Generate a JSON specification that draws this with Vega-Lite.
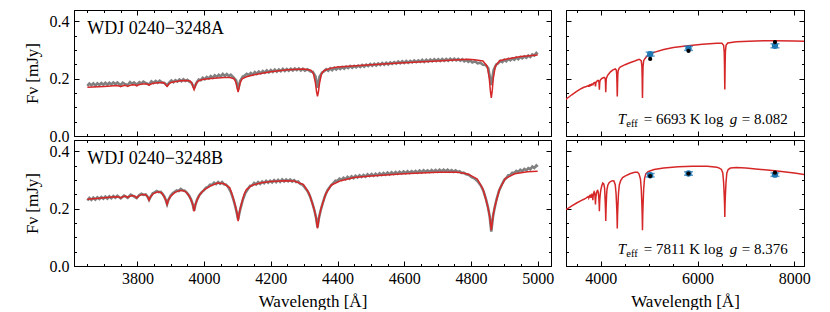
{
"$schema": "https://vega.github.io/schema/vega-lite/v6.json",
"padding": {"left": 22, "top": 9, "right": 5, "bottom": 0},
"config": {
  "view": {"stroke": "black", "strokeWidth": 1},
  "font": "Liberation Serif",
  "axis": {"domainColor": "black", "tickColor": "black", "labelColor": "black", "titleColor": "black", "grid": false, "labelFont": "Liberation Serif", "titleFont": "Liberation Serif", "labelFontSize": 16, "titleFontSize": 17, "titleFontWeight": "normal", "labelFlush": false, "labelOverlap": false, "domainWidth": 1, "tickWidth": 1, "minExtent": 0}
},
"datasets": {
  "modelA": [
    {"w":3250,"f":0.125},{"w":3300,"f":0.131},{"w":3400,"f":0.144},{"w":3500,"f":0.156},{"w":3600,"f":0.166},{"w":3650,"f":0.170},{"w":3700,"f":0.173},{"w":3740,"f":0.176},{"w":3747,"f":0.174},{"w":3750,"f":0.172},{"w":3753,"f":0.174},{"w":3762,"f":0.177},{"w":3768,"f":0.175},{"w":3771,"f":0.173},{"w":3774,"f":0.175},{"w":3785,"f":0.179},{"w":3794,"f":0.178},{"w":3798,"f":0.175},{"w":3802,"f":0.178},{"w":3815,"f":0.182},{"w":3828,"f":0.182},{"w":3832,"f":0.180},{"w":3835,"f":0.177},{"w":3838,"f":0.180},{"w":3845,"f":0.183},{"w":3860,"f":0.186},{"w":3877,"f":0.187},{"w":3883,"f":0.182},{"w":3886,"f":0.177},{"w":3889,"f":0.173},{"w":3892,"f":0.177},{"w":3895,"f":0.182},{"w":3901,"f":0.187},{"w":3915,"f":0.190},{"w":3930,"f":0.193},{"w":3945,"f":0.194},{"w":3958,"f":0.192},{"w":3964,"f":0.183},{"w":3967,"f":0.171},{"w":3970,"f":0.162},{"w":3973,"f":0.171},{"w":3976,"f":0.183},{"w":3982,"f":0.192},{"w":3995,"f":0.197},{"w":4020,"f":0.201},{"w":4060,"f":0.204},{"w":4077,"f":0.204},{"w":4090,"f":0.200},{"w":4096,"f":0.185},{"w":4099,"f":0.168},{"w":4102,"f":0.153},{"w":4105,"f":0.168},{"w":4108,"f":0.185},{"w":4114,"f":0.200},{"w":4127,"f":0.207},{"w":4150,"f":0.214},{"w":4200,"f":0.224},{"w":4250,"f":0.231},{"w":4300,"f":0.234},{"w":4320,"f":0.230},{"w":4328,"f":0.217},{"w":4334,"f":0.184},{"w":4337,"f":0.156},{"w":4340,"f":0.138},{"w":4343,"f":0.156},{"w":4346,"f":0.184},{"w":4352,"f":0.217},{"w":4360,"f":0.229},{"w":4380,"f":0.237},{"w":4400,"f":0.241},{"w":4500,"f":0.249},{"w":4600,"f":0.256},{"w":4700,"f":0.262},{"w":4790,"f":0.268},{"w":4811,"f":0.266},{"w":4836,"f":0.262},{"w":4849,"f":0.243},{"w":4855,"f":0.201},{"w":4858,"f":0.160},{"w":4861,"f":0.133},{"w":4864,"f":0.160},{"w":4867,"f":0.201},{"w":4873,"f":0.243},{"w":4886,"f":0.263},{"w":4911,"f":0.270},{"w":4950,"f":0.278},{"w":5000,"f":0.283},{"w":5100,"f":0.292},{"w":5300,"f":0.302},{"w":5500,"f":0.309},{"w":5800,"f":0.315},{"w":6100,"f":0.320},{"w":6400,"f":0.324},{"w":6503,"f":0.324},{"w":6538,"f":0.317},{"w":6551,"f":0.293},{"w":6557,"f":0.244},{"w":6560,"f":0.195},{"w":6563,"f":0.162},{"w":6566,"f":0.195},{"w":6569,"f":0.244},{"w":6575,"f":0.293},{"w":6588,"f":0.317},{"w":6623,"f":0.325},{"w":6800,"f":0.329},{"w":7200,"f":0.332},{"w":7600,"f":0.333},{"w":8000,"f":0.332},{"w":8250,"f":0.331}
  ],
  "modelB": [
    {"w":3250,"f":0.195},{"w":3300,"f":0.199},{"w":3400,"f":0.210},{"w":3500,"f":0.220},{"w":3600,"f":0.229},{"w":3650,"f":0.233},{"w":3700,"f":0.238},{"w":3735,"f":0.242},{"w":3745,"f":0.241},{"w":3750,"f":0.238},{"w":3755,"f":0.241},{"w":3763,"f":0.244},{"w":3768,"f":0.242},{"w":3771,"f":0.239},{"w":3774,"f":0.242},{"w":3785,"f":0.246},{"w":3793,"f":0.244},{"w":3798,"f":0.238},{"w":3803,"f":0.244},{"w":3815,"f":0.250},{"w":3825,"f":0.249},{"w":3831,"f":0.241},{"w":3835,"f":0.230},{"w":3839,"f":0.241},{"w":3848,"f":0.253},{"w":3862,"f":0.259},{"w":3872,"f":0.256},{"w":3880,"f":0.243},{"w":3885,"f":0.230},{"w":3889,"f":0.215},{"w":3893,"f":0.230},{"w":3900,"f":0.244},{"w":3912,"f":0.256},{"w":3925,"f":0.263},{"w":3935,"f":0.264},{"w":3945,"f":0.259},{"w":3952,"f":0.250},{"w":3959,"f":0.236},{"w":3964,"f":0.222},{"w":3967,"f":0.210},{"w":3970,"f":0.191},{"w":3973,"f":0.210},{"w":3976,"f":0.222},{"w":3981,"f":0.236},{"w":3988,"f":0.251},{"w":4000,"f":0.266},{"w":4020,"f":0.280},{"w":4040,"f":0.290},{"w":4060,"f":0.287},{"w":4077,"f":0.273},{"w":4084,"f":0.250},{"w":4091,"f":0.222},{"w":4096,"f":0.199},{"w":4099,"f":0.181},{"w":4102,"f":0.157},{"w":4105,"f":0.181},{"w":4108,"f":0.199},{"w":4113,"f":0.222},{"w":4120,"f":0.250},{"w":4127,"f":0.267},{"w":4144,"f":0.282},{"w":4172,"f":0.291},{"w":4200,"f":0.295},{"w":4240,"f":0.298},{"w":4270,"f":0.297},{"w":4298,"f":0.284},{"w":4315,"f":0.253},{"w":4322,"f":0.228},{"w":4329,"f":0.202},{"w":4334,"f":0.178},{"w":4337,"f":0.157},{"w":4340,"f":0.131},{"w":4343,"f":0.157},{"w":4346,"f":0.178},{"w":4351,"f":0.202},{"w":4358,"f":0.228},{"w":4365,"f":0.253},{"w":4382,"f":0.283},{"w":4410,"f":0.298},{"w":4450,"f":0.309},{"w":4500,"f":0.314},{"w":4600,"f":0.322},{"w":4700,"f":0.327},{"w":4760,"f":0.327},{"w":4791,"f":0.321},{"w":4819,"f":0.304},{"w":4836,"f":0.269},{"w":4843,"f":0.240},{"w":4850,"f":0.209},{"w":4855,"f":0.180},{"w":4858,"f":0.155},{"w":4861,"f":0.125},{"w":4864,"f":0.155},{"w":4867,"f":0.180},{"w":4872,"f":0.209},{"w":4879,"f":0.240},{"w":4886,"f":0.269},{"w":4903,"f":0.305},{"w":4931,"f":0.322},{"w":4970,"f":0.329},{"w":5000,"f":0.331},{"w":5100,"f":0.337},{"w":5300,"f":0.342},{"w":5600,"f":0.347},{"w":5900,"f":0.348},{"w":6200,"f":0.348},{"w":6400,"f":0.345},{"w":6450,"f":0.342},{"w":6493,"f":0.337},{"w":6521,"f":0.325},{"w":6538,"f":0.293},{"w":6545,"f":0.269},{"w":6552,"f":0.243},{"w":6557,"f":0.220},{"w":6560,"f":0.200},{"w":6563,"f":0.171},{"w":6566,"f":0.200},{"w":6569,"f":0.220},{"w":6574,"f":0.243},{"w":6581,"f":0.269},{"w":6588,"f":0.293},{"w":6605,"f":0.325},{"w":6633,"f":0.337},{"w":6680,"f":0.342},{"w":6800,"f":0.344},{"w":7000,"f":0.342},{"w":7200,"f":0.339},{"w":7600,"f":0.333},{"w":8000,"f":0.325},{"w":8250,"f":0.318}
  ],
  "obsA": [
    {"w":3650,"f":0.175},{"w":3656,"f":0.183},{"w":3662,"f":0.177},{"w":3668,"f":0.184},{"w":3674,"f":0.176},{"w":3680,"f":0.184},{"w":3686,"f":0.178},{"w":3692,"f":0.185},{"w":3698,"f":0.179},{"w":3704,"f":0.186},{"w":3710,"f":0.179},{"w":3716,"f":0.186},{"w":3722,"f":0.180},{"w":3728,"f":0.187},{"w":3734,"f":0.181},{"w":3740,"f":0.187},{"w":3746,"f":0.181},{"w":3750,"f":0.178},{"w":3756,"f":0.186},{"w":3762,"f":0.182},{"w":3771,"f":0.178},{"w":3778,"f":0.188},{"w":3784,"f":0.182},{"w":3790,"f":0.187},{"w":3798,"f":0.179},{"w":3806,"f":0.188},{"w":3812,"f":0.183},{"w":3818,"f":0.190},{"w":3825,"f":0.185},{"w":3835,"f":0.180},{"w":3842,"f":0.191},{"w":3848,"f":0.185},{"w":3855,"f":0.192},{"w":3861,"f":0.186},{"w":3867,"f":0.193},{"w":3874,"f":0.187},{"w":3880,"f":0.186},{"w":3889,"f":0.177},{"w":3896,"f":0.187},{"w":3902,"f":0.194},{"w":3908,"f":0.188},{"w":3914,"f":0.195},{"w":3920,"f":0.190},{"w":3926,"f":0.197},{"w":3932,"f":0.191},{"w":3938,"f":0.198},{"w":3944,"f":0.192},{"w":3950,"f":0.196},{"w":3956,"f":0.190},{"w":3962,"f":0.186},{"w":3970,"f":0.168},{"w":3978,"f":0.187},{"w":3984,"f":0.197},{"w":3990,"f":0.195},{"w":3996,"f":0.203},{"w":4002,"f":0.198},{"w":4008,"f":0.206},{"w":4014,"f":0.201},{"w":4020,"f":0.209},{"w":4026,"f":0.203},{"w":4032,"f":0.212},{"w":4038,"f":0.206},{"w":4044,"f":0.214},{"w":4050,"f":0.208},{"w":4056,"f":0.217},{"w":4062,"f":0.210},{"w":4068,"f":0.216},{"w":4074,"f":0.209},{"w":4080,"f":0.214},{"w":4088,"f":0.205},{"w":4096,"f":0.194},{"w":4102,"f":0.163},{"w":4108,"f":0.192},{"w":4116,"f":0.208},{"w":4122,"f":0.211},{"w":4128,"f":0.217},{"w":4134,"f":0.213},{"w":4140,"f":0.220},{"w":4146,"f":0.214},{"w":4152,"f":0.223},{"w":4158,"f":0.217},{"w":4164,"f":0.225},{"w":4170,"f":0.219},{"w":4176,"f":0.227},{"w":4182,"f":0.221},{"w":4188,"f":0.229},{"w":4194,"f":0.222},{"w":4200,"f":0.230},{"w":4206,"f":0.224},{"w":4212,"f":0.232},{"w":4218,"f":0.225},{"w":4224,"f":0.232},{"w":4230,"f":0.226},{"w":4236,"f":0.234},{"w":4242,"f":0.227},{"w":4248,"f":0.234},{"w":4254,"f":0.228},{"w":4260,"f":0.235},{"w":4266,"f":0.229},{"w":4272,"f":0.236},{"w":4278,"f":0.230},{"w":4284,"f":0.236},{"w":4290,"f":0.229},{"w":4296,"f":0.235},{"w":4302,"f":0.228},{"w":4310,"f":0.233},{"w":4318,"f":0.226},{"w":4326,"f":0.224},{"w":4334,"f":0.208},{"w":4340,"f":0.168},{"w":4346,"f":0.207},{"w":4354,"f":0.222},{"w":4360,"f":0.226},{"w":4366,"f":0.233},{"w":4372,"f":0.228},{"w":4378,"f":0.236},{"w":4384,"f":0.230},{"w":4390,"f":0.238},{"w":4396,"f":0.232},{"w":4402,"f":0.239},{"w":4408,"f":0.234},{"w":4414,"f":0.241},{"w":4420,"f":0.235},{"w":4426,"f":0.242},{"w":4432,"f":0.237},{"w":4438,"f":0.244},{"w":4444,"f":0.238},{"w":4450,"f":0.245},{"w":4456,"f":0.240},{"w":4462,"f":0.246},{"w":4468,"f":0.241},{"w":4474,"f":0.248},{"w":4480,"f":0.242},{"w":4486,"f":0.249},{"w":4492,"f":0.244},{"w":4498,"f":0.251},{"w":4504,"f":0.245},{"w":4510,"f":0.252},{"w":4516,"f":0.246},{"w":4522,"f":0.253},{"w":4528,"f":0.248},{"w":4534,"f":0.255},{"w":4540,"f":0.249},{"w":4546,"f":0.256},{"w":4552,"f":0.250},{"w":4558,"f":0.257},{"w":4564,"f":0.252},{"w":4570,"f":0.258},{"w":4576,"f":0.253},{"w":4582,"f":0.260},{"w":4588,"f":0.254},{"w":4594,"f":0.261},{"w":4600,"f":0.255},{"w":4606,"f":0.262},{"w":4612,"f":0.256},{"w":4618,"f":0.262},{"w":4624,"f":0.257},{"w":4630,"f":0.264},{"w":4636,"f":0.258},{"w":4642,"f":0.264},{"w":4648,"f":0.259},{"w":4654,"f":0.266},{"w":4660,"f":0.259},{"w":4666,"f":0.266},{"w":4672,"f":0.260},{"w":4678,"f":0.267},{"w":4684,"f":0.261},{"w":4690,"f":0.268},{"w":4696,"f":0.262},{"w":4702,"f":0.268},{"w":4708,"f":0.262},{"w":4714,"f":0.269},{"w":4720,"f":0.263},{"w":4726,"f":0.269},{"w":4732,"f":0.263},{"w":4738,"f":0.270},{"w":4744,"f":0.264},{"w":4750,"f":0.270},{"w":4756,"f":0.264},{"w":4762,"f":0.269},{"w":4768,"f":0.263},{"w":4774,"f":0.268},{"w":4780,"f":0.261},{"w":4786,"f":0.266},{"w":4792,"f":0.259},{"w":4798,"f":0.264},{"w":4804,"f":0.257},{"w":4812,"f":0.261},{"w":4820,"f":0.254},{"w":4828,"f":0.256},{"w":4836,"f":0.249},{"w":4844,"f":0.248},{"w":4852,"f":0.236},{"w":4861,"f":0.178},{"w":4868,"f":0.231},{"w":4876,"f":0.250},{"w":4882,"f":0.254},{"w":4888,"f":0.262},{"w":4894,"f":0.258},{"w":4900,"f":0.266},{"w":4906,"f":0.261},{"w":4912,"f":0.269},{"w":4918,"f":0.264},{"w":4924,"f":0.271},{"w":4930,"f":0.266},{"w":4936,"f":0.274},{"w":4942,"f":0.268},{"w":4948,"f":0.276},{"w":4954,"f":0.271},{"w":4960,"f":0.278},{"w":4966,"f":0.273},{"w":4972,"f":0.281},{"w":4978,"f":0.276},{"w":4984,"f":0.285},{"w":4990,"f":0.281},{"w":4996,"f":0.290},{"w":5000,"f":0.285}
  ],
  "obsB": [
    {"w":3650,"f":0.229},{"w":3656,"f":0.238},{"w":3662,"f":0.231},{"w":3668,"f":0.239},{"w":3674,"f":0.232},{"w":3680,"f":0.240},{"w":3686,"f":0.234},{"w":3692,"f":0.241},{"w":3698,"f":0.235},{"w":3704,"f":0.242},{"w":3710,"f":0.235},{"w":3716,"f":0.243},{"w":3722,"f":0.237},{"w":3728,"f":0.244},{"w":3734,"f":0.238},{"w":3740,"f":0.245},{"w":3750,"f":0.236},{"w":3760,"f":0.246},{"w":3771,"f":0.238},{"w":3780,"f":0.249},{"w":3788,"f":0.244},{"w":3798,"f":0.237},{"w":3806,"f":0.248},{"w":3812,"f":0.252},{"w":3818,"f":0.248},{"w":3825,"f":0.250},{"w":3830,"f":0.243},{"w":3835,"f":0.231},{"w":3840,"f":0.242},{"w":3846,"f":0.254},{"w":3852,"f":0.257},{"w":3858,"f":0.262},{"w":3864,"f":0.258},{"w":3870,"f":0.259},{"w":3876,"f":0.251},{"w":3881,"f":0.242},{"w":3885,"f":0.231},{"w":3889,"f":0.216},{"w":3893,"f":0.231},{"w":3900,"f":0.246},{"w":3906,"f":0.254},{"w":3912,"f":0.259},{"w":3918,"f":0.264},{"w":3924,"f":0.262},{"w":3930,"f":0.269},{"w":3936,"f":0.264},{"w":3942,"f":0.263},{"w":3948,"f":0.256},{"w":3955,"f":0.246},{"w":3961,"f":0.232},{"w":3966,"f":0.215},{"w":3970,"f":0.193},{"w":3974,"f":0.214},{"w":3979,"f":0.232},{"w":3985,"f":0.246},{"w":3993,"f":0.258},{"w":4000,"f":0.265},{"w":4006,"f":0.274},{"w":4012,"f":0.276},{"w":4018,"f":0.284},{"w":4024,"f":0.283},{"w":4030,"f":0.291},{"w":4036,"f":0.286},{"w":4042,"f":0.293},{"w":4048,"f":0.287},{"w":4054,"f":0.293},{"w":4060,"f":0.285},{"w":4066,"f":0.284},{"w":4072,"f":0.276},{"w":4080,"f":0.259},{"w":4088,"f":0.232},{"w":4094,"f":0.206},{"w":4098,"f":0.185},{"w":4102,"f":0.162},{"w":4106,"f":0.186},{"w":4110,"f":0.205},{"w":4116,"f":0.231},{"w":4124,"f":0.256},{"w":4132,"f":0.270},{"w":4138,"f":0.280},{"w":4144,"f":0.281},{"w":4150,"f":0.290},{"w":4156,"f":0.285},{"w":4162,"f":0.293},{"w":4168,"f":0.287},{"w":4174,"f":0.295},{"w":4180,"f":0.289},{"w":4186,"f":0.297},{"w":4192,"f":0.291},{"w":4198,"f":0.298},{"w":4204,"f":0.292},{"w":4210,"f":0.300},{"w":4216,"f":0.293},{"w":4222,"f":0.301},{"w":4228,"f":0.294},{"w":4234,"f":0.302},{"w":4240,"f":0.295},{"w":4246,"f":0.302},{"w":4252,"f":0.296},{"w":4258,"f":0.302},{"w":4264,"f":0.295},{"w":4270,"f":0.300},{"w":4276,"f":0.293},{"w":4282,"f":0.295},{"w":4288,"f":0.287},{"w":4294,"f":0.285},{"w":4300,"f":0.277},{"w":4310,"f":0.262},{"w":4318,"f":0.242},{"w":4325,"f":0.218},{"w":4331,"f":0.193},{"w":4336,"f":0.167},{"w":4340,"f":0.135},{"w":4344,"f":0.166},{"w":4349,"f":0.192},{"w":4355,"f":0.217},{"w":4362,"f":0.243},{"w":4370,"f":0.265},{"w":4380,"f":0.281},{"w":4388,"f":0.290},{"w":4394,"f":0.298},{"w":4400,"f":0.297},{"w":4406,"f":0.305},{"w":4412,"f":0.301},{"w":4418,"f":0.308},{"w":4424,"f":0.303},{"w":4430,"f":0.311},{"w":4436,"f":0.305},{"w":4442,"f":0.313},{"w":4448,"f":0.307},{"w":4454,"f":0.315},{"w":4460,"f":0.309},{"w":4466,"f":0.317},{"w":4472,"f":0.311},{"w":4478,"f":0.318},{"w":4484,"f":0.312},{"w":4490,"f":0.320},{"w":4496,"f":0.314},{"w":4502,"f":0.321},{"w":4508,"f":0.315},{"w":4514,"f":0.322},{"w":4520,"f":0.316},{"w":4526,"f":0.324},{"w":4532,"f":0.318},{"w":4538,"f":0.325},{"w":4544,"f":0.319},{"w":4550,"f":0.326},{"w":4556,"f":0.320},{"w":4562,"f":0.327},{"w":4568,"f":0.321},{"w":4574,"f":0.328},{"w":4580,"f":0.322},{"w":4586,"f":0.329},{"w":4592,"f":0.323},{"w":4598,"f":0.330},{"w":4604,"f":0.324},{"w":4610,"f":0.331},{"w":4616,"f":0.325},{"w":4622,"f":0.331},{"w":4628,"f":0.326},{"w":4634,"f":0.332},{"w":4640,"f":0.326},{"w":4646,"f":0.333},{"w":4652,"f":0.327},{"w":4658,"f":0.334},{"w":4664,"f":0.328},{"w":4670,"f":0.334},{"w":4676,"f":0.328},{"w":4682,"f":0.335},{"w":4688,"f":0.329},{"w":4694,"f":0.335},{"w":4700,"f":0.329},{"w":4706,"f":0.336},{"w":4712,"f":0.330},{"w":4718,"f":0.336},{"w":4724,"f":0.330},{"w":4730,"f":0.336},{"w":4736,"f":0.330},{"w":4742,"f":0.335},{"w":4748,"f":0.329},{"w":4754,"f":0.334},{"w":4760,"f":0.328},{"w":4766,"f":0.331},{"w":4772,"f":0.325},{"w":4778,"f":0.326},{"w":4786,"f":0.320},{"w":4794,"f":0.318},{"w":4802,"f":0.310},{"w":4810,"f":0.306},{"w":4820,"f":0.296},{"w":4830,"f":0.280},{"w":4838,"f":0.260},{"w":4845,"f":0.234},{"w":4851,"f":0.205},{"w":4856,"f":0.175},{"w":4861,"f":0.120},{"w":4866,"f":0.172},{"w":4871,"f":0.203},{"w":4877,"f":0.234},{"w":4884,"f":0.262},{"w":4892,"f":0.283},{"w":4900,"f":0.301},{"w":4906,"f":0.307},{"w":4912,"f":0.317},{"w":4918,"f":0.318},{"w":4924,"f":0.326},{"w":4930,"f":0.324},{"w":4936,"f":0.332},{"w":4942,"f":0.328},{"w":4948,"f":0.336},{"w":4954,"f":0.331},{"w":4960,"f":0.339},{"w":4966,"f":0.334},{"w":4972,"f":0.342},{"w":4978,"f":0.338},{"w":4984,"f":0.347},{"w":4990,"f":0.342},{"w":4996,"f":0.351},{"w":5000,"f":0.346}
  ],
  "photA": [
    {"w":5020,"obs":0.286,"lo":0.279,"hi":0.293,"syn":0.269},
    {"w":5813,"obs":0.306,"lo":0.299,"hi":0.313,"syn":0.297},
    {"w":7600,"obs":0.315,"lo":0.308,"hi":0.322,"syn":0.328}
  ],
  "photB": [
    {"w":5020,"obs":0.317,"lo":0.311,"hi":0.323,"syn":0.314},
    {"w":5813,"obs":0.323,"lo":0.317,"hi":0.329,"syn":0.323},
    {"w":7600,"obs":0.319,"lo":0.313,"hi":0.325,"syn":0.326}
  ]
},
"columns": 2,
"align": "each",
"bounds": "flush",
"spacing": {"row": 4, "column": 15},
"concat": [
  {
    "width": 477, "height": 126,
    "resolve": {"axis": {"x": "independent", "y": "independent"}},
    "layer": [
      {"data": {"name": "obsA"}, "mark": {"type": "line", "color": "#808080", "strokeWidth": 2.6},
       "encoding": {
         "x": {"field": "w", "type": "quantitative", "scale": {"domain": [3610, 5040], "nice": false, "zero": false},
               "axis": {"orient": "bottom", "values": [3650,3700,3750,3800,3850,3900,3950,4000,4050,4100,4150,4200,4250,4300,4350,4400,4450,4500,4550,4600,4650,4700,4750,4800,4850,4900,4950,5000], "labels": false, "title": null, "tickSize": {"condition": {"test": "datum.value % 200 === 0", "value": -5}, "value": -2.5}}},
         "y": {"field": "f", "type": "quantitative", "scale": {"domain": [0, 0.44], "nice": false},
               "axis": {"orient": "left", "values": [0,0.05,0.1,0.15,0.2,0.25,0.3,0.35,0.4], "title": "Fν [mJy]", "titlePadding": 8, "labelPadding": 10, "labelExpr": "round(datum.value*100) % 20 === 0 ? format(datum.value, '.1f') : ''", "tickSize": {"condition": {"test": "round(datum.value*100) % 20 === 0", "value": -5}, "value": -2.5}}}
       }},
      {"data": {"name": "modelA"}, "transform": [{"filter": "datum.w >= 3650 && datum.w <= 5000"}], "mark": {"type": "line", "color": "#d62728", "strokeWidth": 1.5},
       "encoding": {
         "x": {"field": "w", "type": "quantitative", "axis": {"orient": "top", "values": [3650,3700,3750,3800,3850,3900,3950,4000,4050,4100,4150,4200,4250,4300,4350,4400,4450,4500,4550,4600,4650,4700,4750,4800,4850,4900,4950,5000], "labels": false, "title": null, "tickSize": {"condition": {"test": "datum.value % 200 === 0", "value": -5}, "value": -2.5}}},
         "y": {"field": "f", "type": "quantitative", "axis": {"orient": "right", "values": [0,0.05,0.1,0.15,0.2,0.25,0.3,0.35,0.4], "labels": false, "title": null, "tickSize": {"condition": {"test": "round(datum.value*100) % 20 === 0", "value": -5}, "value": -2.5}}}
       }},
      {"data": {"values": [{}]}, "mark": {"type": "text", "align": "left", "baseline": "alphabetic", "fontSize": 18, "font": "Liberation Serif", "color": "black"},
       "encoding": {"x": {"datum": 3650, "type": "quantitative", "axis": null}, "y": {"datum": 0.355, "type": "quantitative", "axis": null}, "text": {"value": "WDJ 0240−3248A"}}}
    ]
  },
  {
    "width": 238, "height": 126,
    "resolve": {"axis": {"x": "independent", "y": "independent"}},
    "layer": [
      {"data": {"name": "modelA"}, "mark": {"type": "line", "color": "#d62728", "strokeWidth": 1.5, "clip": true},
       "encoding": {
         "x": {"field": "w", "type": "quantitative", "scale": {"domain": [3280, 8200], "nice": false, "zero": false},
               "axis": {"orient": "bottom", "values": [3500,4000,4500,5000,5500,6000,6500,7000,7500,8000], "labels": false, "title": null, "tickSize": {"condition": {"test": "datum.value % 2000 === 0", "value": -5}, "value": -2.5}}},
         "y": {"field": "f", "type": "quantitative", "scale": {"domain": [0, 0.44], "nice": false},
               "axis": {"orient": "left", "values": [0,0.05,0.1,0.15,0.2,0.25,0.3,0.35,0.4], "labels": false, "title": null, "tickSize": {"condition": {"test": "round(datum.value*100) % 20 === 0", "value": -5}, "value": -2.5}}}
       }},
      {"data": {"name": "photA"}, "mark": {"type": "rule", "color": "#1f77b4", "strokeWidth": 1.5},
       "encoding": {
         "x": {"field": "w", "type": "quantitative", "axis": {"orient": "top", "values": [3500,4000,4500,5000,5500,6000,6500,7000,7500,8000], "labels": false, "title": null, "tickSize": {"condition": {"test": "datum.value % 2000 === 0", "value": -5}, "value": -2.5}}},
         "y": {"field": "lo", "type": "quantitative", "axis": {"orient": "right", "values": [0,0.05,0.1,0.15,0.2,0.25,0.3,0.35,0.4], "labels": false, "title": null, "tickSize": {"condition": {"test": "round(datum.value*100) % 20 === 0", "value": -5}, "value": -2.5}}},
         "y2": {"field": "hi"}
       }},
      {"data": {"name": "photA"}, "mark": {"type": "tick", "orient": "horizontal", "color": "#1f77b4", "size": 9, "thickness": 1.5},
       "encoding": {"x": {"field": "w", "type": "quantitative", "axis": null}, "y": {"field": "lo", "type": "quantitative", "axis": null}}},
      {"data": {"name": "photA"}, "mark": {"type": "tick", "orient": "horizontal", "color": "#1f77b4", "size": 9, "thickness": 1.5},
       "encoding": {"x": {"field": "w", "type": "quantitative", "axis": null}, "y": {"field": "hi", "type": "quantitative", "axis": null}}},
      {"data": {"name": "photA"}, "mark": {"type": "circle", "color": "#1f77b4", "size": 40, "opacity": 1},
       "encoding": {"x": {"field": "w", "type": "quantitative", "axis": null}, "y": {"field": "obs", "type": "quantitative", "axis": null}}},
      {"data": {"name": "photA"}, "mark": {"type": "circle", "color": "black", "size": 18, "opacity": 1},
       "encoding": {"x": {"field": "w", "type": "quantitative", "axis": null}, "y": {"field": "syn", "type": "quantitative", "axis": null}}},
      {"data": {"values": [{}]}, "mark": {"type": "text", "align": "left", "baseline": "alphabetic", "fontSize": 15, "fontStyle": "italic", "font": "Liberation Serif", "color": "black"},
       "encoding": {"x": {"datum": 4350, "type": "quantitative", "axis": null}, "y": {"datum": 0.042, "type": "quantitative", "axis": null}, "text": {"value": "T"}}},
      {"data": {"values": [{}]}, "mark": {"type": "text", "align": "left", "baseline": "alphabetic", "fontSize": 10.5, "font": "Liberation Serif", "color": "black", "dx": 8.5, "dy": 3},
       "encoding": {"x": {"datum": 4350, "type": "quantitative", "axis": null}, "y": {"datum": 0.042, "type": "quantitative", "axis": null}, "text": {"value": "eff"}}},
      {"data": {"values": [{}]}, "mark": {"type": "text", "align": "left", "baseline": "alphabetic", "fontSize": 15, "font": "Liberation Serif", "color": "black", "dx": 26},
       "encoding": {"x": {"datum": 4350, "type": "quantitative", "axis": null}, "y": {"datum": 0.042, "type": "quantitative", "axis": null}, "text": {"value": "= 6693 K  log"}}},
      {"data": {"values": [{}]}, "mark": {"type": "text", "align": "left", "baseline": "alphabetic", "fontSize": 15, "fontStyle": "italic", "font": "Liberation Serif", "color": "black", "dx": 112},
       "encoding": {"x": {"datum": 4350, "type": "quantitative", "axis": null}, "y": {"datum": 0.042, "type": "quantitative", "axis": null}, "text": {"value": "g"}}},
      {"data": {"values": [{}]}, "mark": {"type": "text", "align": "left", "baseline": "alphabetic", "fontSize": 15, "font": "Liberation Serif", "color": "black", "dx": 124},
       "encoding": {"x": {"datum": 4350, "type": "quantitative", "axis": null}, "y": {"datum": 0.042, "type": "quantitative", "axis": null}, "text": {"value": "= 8.082"}}}
    ]
  },
  {
    "width": 477, "height": 126,
    "resolve": {"axis": {"x": "independent", "y": "independent"}},
    "layer": [
      {"data": {"name": "obsB"}, "mark": {"type": "line", "color": "#808080", "strokeWidth": 2.6},
       "encoding": {
         "x": {"field": "w", "type": "quantitative", "scale": {"domain": [3610, 5040], "nice": false, "zero": false},
               "axis": {"orient": "bottom", "values": [3650,3700,3750,3800,3850,3900,3950,4000,4050,4100,4150,4200,4250,4300,4350,4400,4450,4500,4550,4600,4650,4700,4750,4800,4850,4900,4950,5000], "title": "Wavelength [Å]", "titlePadding": 5, "labelPadding": 9, "labelExpr": "datum.value % 200 === 0 ? format(datum.value, 'd') : ''", "tickSize": {"condition": {"test": "datum.value % 200 === 0", "value": -5}, "value": -2.5}}},
         "y": {"field": "f", "type": "quantitative", "scale": {"domain": [0, 0.44], "nice": false},
               "axis": {"orient": "left", "values": [0,0.05,0.1,0.15,0.2,0.25,0.3,0.35,0.4], "title": "Fν [mJy]", "titlePadding": 8, "labelPadding": 10, "labelExpr": "round(datum.value*100) % 20 === 0 ? format(datum.value, '.1f') : ''", "tickSize": {"condition": {"test": "round(datum.value*100) % 20 === 0", "value": -5}, "value": -2.5}}}
       }},
      {"data": {"name": "modelB"}, "transform": [{"filter": "datum.w >= 3650 && datum.w <= 5000"}], "mark": {"type": "line", "color": "#d62728", "strokeWidth": 1.5},
       "encoding": {
         "x": {"field": "w", "type": "quantitative", "axis": {"orient": "top", "values": [3650,3700,3750,3800,3850,3900,3950,4000,4050,4100,4150,4200,4250,4300,4350,4400,4450,4500,4550,4600,4650,4700,4750,4800,4850,4900,4950,5000], "labels": false, "title": null, "tickSize": {"condition": {"test": "datum.value % 200 === 0", "value": -5}, "value": -2.5}}},
         "y": {"field": "f", "type": "quantitative", "axis": {"orient": "right", "values": [0,0.05,0.1,0.15,0.2,0.25,0.3,0.35,0.4], "labels": false, "title": null, "tickSize": {"condition": {"test": "round(datum.value*100) % 20 === 0", "value": -5}, "value": -2.5}}}
       }},
      {"data": {"values": [{}]}, "mark": {"type": "text", "align": "left", "baseline": "alphabetic", "fontSize": 18, "font": "Liberation Serif", "color": "black"},
       "encoding": {"x": {"datum": 3650, "type": "quantitative", "axis": null}, "y": {"datum": 0.355, "type": "quantitative", "axis": null}, "text": {"value": "WDJ 0240−3248B"}}}
    ]
  },
  {
    "width": 238, "height": 126,
    "resolve": {"axis": {"x": "independent", "y": "independent"}},
    "layer": [
      {"data": {"name": "modelB"}, "mark": {"type": "line", "color": "#d62728", "strokeWidth": 1.5, "clip": true},
       "encoding": {
         "x": {"field": "w", "type": "quantitative", "scale": {"domain": [3280, 8200], "nice": false, "zero": false},
               "axis": {"orient": "bottom", "values": [3500,4000,4500,5000,5500,6000,6500,7000,7500,8000], "title": "Wavelength [Å]", "titlePadding": 5, "labelPadding": 9, "labelExpr": "datum.value % 2000 === 0 ? format(datum.value, 'd') : ''", "tickSize": {"condition": {"test": "datum.value % 2000 === 0", "value": -5}, "value": -2.5}}},
         "y": {"field": "f", "type": "quantitative", "scale": {"domain": [0, 0.44], "nice": false},
               "axis": {"orient": "left", "values": [0,0.05,0.1,0.15,0.2,0.25,0.3,0.35,0.4], "labels": false, "title": null, "tickSize": {"condition": {"test": "round(datum.value*100) % 20 === 0", "value": -5}, "value": -2.5}}}
       }},
      {"data": {"name": "photB"}, "mark": {"type": "rule", "color": "#1f77b4", "strokeWidth": 1.5},
       "encoding": {
         "x": {"field": "w", "type": "quantitative", "axis": {"orient": "top", "values": [3500,4000,4500,5000,5500,6000,6500,7000,7500,8000], "labels": false, "title": null, "tickSize": {"condition": {"test": "datum.value % 2000 === 0", "value": -5}, "value": -2.5}}},
         "y": {"field": "lo", "type": "quantitative", "axis": {"orient": "right", "values": [0,0.05,0.1,0.15,0.2,0.25,0.3,0.35,0.4], "labels": false, "title": null, "tickSize": {"condition": {"test": "round(datum.value*100) % 20 === 0", "value": -5}, "value": -2.5}}},
         "y2": {"field": "hi"}
       }},
      {"data": {"name": "photB"}, "mark": {"type": "tick", "orient": "horizontal", "color": "#1f77b4", "size": 9, "thickness": 1.5},
       "encoding": {"x": {"field": "w", "type": "quantitative", "axis": null}, "y": {"field": "lo", "type": "quantitative", "axis": null}}},
      {"data": {"name": "photB"}, "mark": {"type": "tick", "orient": "horizontal", "color": "#1f77b4", "size": 9, "thickness": 1.5},
       "encoding": {"x": {"field": "w", "type": "quantitative", "axis": null}, "y": {"field": "hi", "type": "quantitative", "axis": null}}},
      {"data": {"name": "photB"}, "mark": {"type": "circle", "color": "#1f77b4", "size": 40, "opacity": 1},
       "encoding": {"x": {"field": "w", "type": "quantitative", "axis": null}, "y": {"field": "obs", "type": "quantitative", "axis": null}}},
      {"data": {"name": "photB"}, "mark": {"type": "circle", "color": "black", "size": 18, "opacity": 1},
       "encoding": {"x": {"field": "w", "type": "quantitative", "axis": null}, "y": {"field": "syn", "type": "quantitative", "axis": null}}},
      {"data": {"values": [{}]}, "mark": {"type": "text", "align": "left", "baseline": "alphabetic", "fontSize": 15, "fontStyle": "italic", "font": "Liberation Serif", "color": "black"},
       "encoding": {"x": {"datum": 4350, "type": "quantitative", "axis": null}, "y": {"datum": 0.042, "type": "quantitative", "axis": null}, "text": {"value": "T"}}},
      {"data": {"values": [{}]}, "mark": {"type": "text", "align": "left", "baseline": "alphabetic", "fontSize": 10.5, "font": "Liberation Serif", "color": "black", "dx": 8.5, "dy": 3},
       "encoding": {"x": {"datum": 4350, "type": "quantitative", "axis": null}, "y": {"datum": 0.042, "type": "quantitative", "axis": null}, "text": {"value": "eff"}}},
      {"data": {"values": [{}]}, "mark": {"type": "text", "align": "left", "baseline": "alphabetic", "fontSize": 15, "font": "Liberation Serif", "color": "black", "dx": 26},
       "encoding": {"x": {"datum": 4350, "type": "quantitative", "axis": null}, "y": {"datum": 0.042, "type": "quantitative", "axis": null}, "text": {"value": "= 7811 K  log"}}},
      {"data": {"values": [{}]}, "mark": {"type": "text", "align": "left", "baseline": "alphabetic", "fontSize": 15, "fontStyle": "italic", "font": "Liberation Serif", "color": "black", "dx": 112},
       "encoding": {"x": {"datum": 4350, "type": "quantitative", "axis": null}, "y": {"datum": 0.042, "type": "quantitative", "axis": null}, "text": {"value": "g"}}},
      {"data": {"values": [{}]}, "mark": {"type": "text", "align": "left", "baseline": "alphabetic", "fontSize": 15, "font": "Liberation Serif", "color": "black", "dx": 124},
       "encoding": {"x": {"datum": 4350, "type": "quantitative", "axis": null}, "y": {"datum": 0.042, "type": "quantitative", "axis": null}, "text": {"value": "= 8.376"}}}
    ]
  }
]
}
